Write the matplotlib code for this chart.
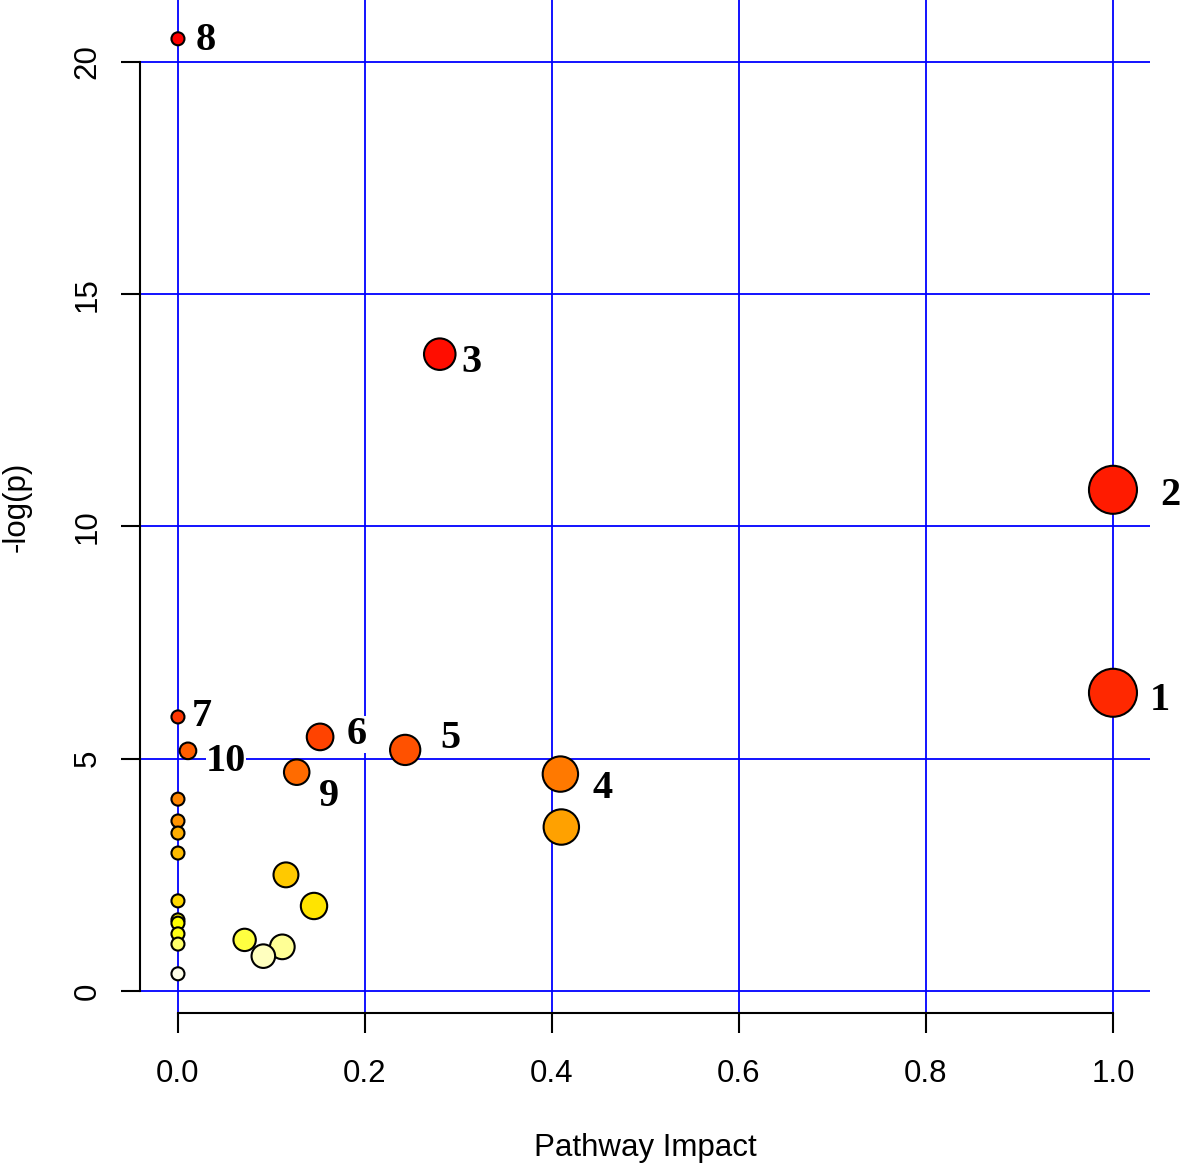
import colorsys
import numpy as np
import matplotlib
matplotlib.use('Agg')
import matplotlib.pyplot as plt

# pathway impact vs -log(p)
impact = [0.0, 0.280, 1.0, 1.0, 0.0, 0.152, 0.243, 0.0107, 0.127, 0.409,
          0.0, 0.0, 0.410, 0.0, 0.0, 0.1155, 0.0, 0.1455, 0.0, 0.0,
          0.0, 0.0713, 0.0, 0.1116, 0.0913, 0.0]
neglogp = [20.50, 13.71, 10.79, 6.42, 5.90, 5.47, 5.19, 5.17, 4.71, 4.67,
           4.13, 3.66, 3.53, 3.40, 2.97, 2.50, 1.94, 1.83, 1.53, 1.46,
           1.23, 1.10, 1.01, 0.95, 0.75, 0.37]
labels = ['8', '3', '2', '1', '7', '6', '5', '10', '9', '4'] + [''] * 16

# label offsets in pixels (dx to text left edge, dy of text centre)
label_offsets = {'8': (18, 3), '3': (22, -4), '2': (47, -1), '1': (37, -3),
                 '7': (14, 5), '6': (27, 7), '5': (35, 16), '10': (18, -6),
                 '9': (22, -20), '4': (32, -10)}

x_ticks = [0.0, 0.2, 0.4, 0.6, 0.8, 1.0]
y_ticks = [0, 5, 10, 15, 20]


def heat_colors(n):
    # same as R's heat.colors(n)
    j = n // 4
    i = n - j
    cols = []
    for h in np.linspace(0, 1 / 6, i):
        cols.append(colorsys.hsv_to_rgb(h, 1, 1))
    if j > 0:
        for s in np.linspace(1 - 1 / (2 * j), 1 / (2 * j), j):
            cols.append(colorsys.hsv_to_rgb(1 / 6, s, 1))
    return cols


x = np.array(impact)
y = np.array(neglogp)
order = np.argsort(-y)
pal = heat_colors(len(y))
colors = [None] * len(y)
for rank, idx in enumerate(order):
    colors[idx] = pal[rank]

# circle radius in px grows with impact
radius_px = 6.5 + 17.5 * np.sqrt(x)
sizes = (2 * radius_px * 72 / 100) ** 2

sans = ['Liberation Sans', 'DejaVu Sans']
fs = 22.5

fig = plt.figure(figsize=(11.81, 11.67), dpi=100)
ax = fig.add_axes([140 / 1181, 154 / 1167, 1010 / 1181, 1013 / 1167])

ax.set_xlim(-0.0406, 1.0396)
ax.set_ylim(-0.474, 21.335)

for xt in x_ticks:
    ax.axvline(xt, color='#0000ff', lw=1.3, zorder=1)
for yt in y_ticks:
    ax.axhline(yt, color='#0000ff', lw=1.3, zorder=1)

ax.scatter(x, y, s=sizes, c=colors, edgecolors='black', linewidths=1.5, zorder=3)

for xi, yi, lab in zip(x, y, labels):
    if not lab:
        continue
    dx, dy = label_offsets[lab]
    ax.annotate(lab, (xi, yi), xytext=(dx, dy - 14), textcoords='offset pixels',
                ha='left', va='baseline', fontsize=29, fontweight='bold',
                family=['Liberation Serif', 'DejaVu Serif'], zorder=2,
                bbox=dict(boxstyle='square,pad=0', fc='white', ec='none'))

for side in ['top', 'right']:
    ax.spines[side].set_visible(False)
ax.spines['left'].set_bounds(0, 20)
ax.spines['bottom'].set_bounds(0, 1)
ax.spines['left'].set_linewidth(1.5)
ax.spines['bottom'].set_linewidth(1.5)

ax.set_xticks(x_ticks)
ax.set_xticklabels(['%.1f' % v for v in x_ticks], family=sans, fontsize=fs)
ax.set_yticks(y_ticks)
ax.set_yticklabels([str(v) for v in y_ticks], family=sans, fontsize=fs,
                   rotation=90, va='center')
ax.tick_params(axis='x', length=14.4, width=1.5, pad=19)
ax.tick_params(axis='y', length=14, width=1.5, pad=13)

ax.set_xlabel('Pathway Impact', family=sans, fontsize=fs, va='center')
ax.xaxis.set_label_coords(0.5, -0.133)
ax.set_ylabel('-log(p)', family=sans, fontsize=fs, va='center')
ax.yaxis.set_label_coords(-0.122, 0.5)

fig.savefig('out.png', dpi=100)
